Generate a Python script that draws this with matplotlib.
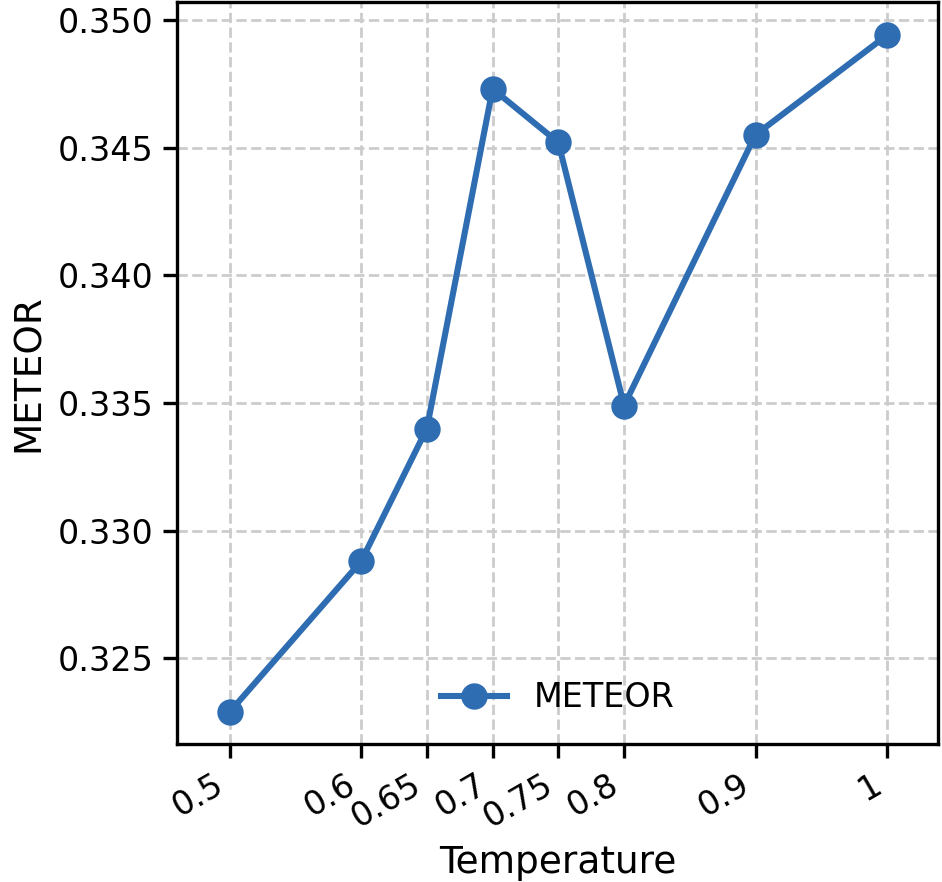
import matplotlib
matplotlib.use("Agg")
import matplotlib.pyplot as plt

temps = [0.5, 0.6, 0.65, 0.7, 0.75, 0.8, 0.9, 1.0]
tick_labels = ["0.5", "0.6", "0.65", "0.7", "0.75", "0.8", "0.9", "1"]
meteor = [0.3229, 0.3288, 0.3340, 0.3473, 0.3452, 0.3349, 0.3455, 0.3494]

fig, ax = plt.subplots(figsize=(4.71, 4.41), dpi=200)
fig.subplots_adjust(left=0.188, right=0.996, top=0.998, bottom=0.156)

ax.plot(temps, meteor, color="#2f6db3", lw=2.2, marker="o", ms=8.5, label="METEOR")
ax.set_xticks(temps)
ax.set_xticklabels(tick_labels, rotation=30, ha="right", fontsize=12)
ax.tick_params(axis="y", labelsize=12)
ax.tick_params(length=5, width=1.2)
ax.set_xlim(0.46, 1.039)
ax.set_ylim(0.32163, 0.35071)
ax.set_xlabel("Temperature", fontsize=13.5)
ax.set_ylabel("METEOR", fontsize=13.5)
ax.grid(True, ls="--", color="#cccccc", lw=1)
ax.legend(loc="lower center", frameon=False, fontsize=12)
for s in ax.spines.values():
    s.set_linewidth(1.2)

fig.savefig("out.png", dpi=200)
